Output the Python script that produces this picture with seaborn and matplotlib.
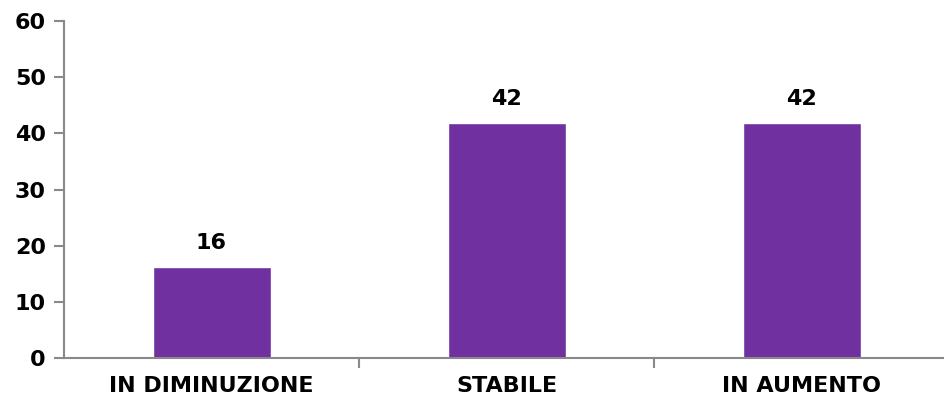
import matplotlib
matplotlib.use("Agg")
import matplotlib.pyplot as plt
import seaborn as sns
import pandas as pd

# data
categories = ["IN DIMINUZIONE", "STABILE", "IN AUMENTO"]
values = [16.2, 41.9, 41.9]
labels = ["16", "42", "42"]
y_ticks = [0, 10, 20, 30, 40, 50, 60]

sns.set_style("white")
plt.rcParams["font.family"] = ["DejaVu Sans"]
plt.rcParams["text.color"] = "black"
plt.rcParams["xtick.color"] = "black"
plt.rcParams["ytick.color"] = "black"

df = pd.DataFrame({"categoria": categories, "valore": values})

fig = plt.figure(figsize=(9.44, 4.01), dpi=100)
# axes run past the right edge, like the original
ax = fig.add_axes([64 / 944, (401 - 358) / 401, 885 / 944, 337 / 401])

sns.barplot(data=df, x="categoria", y="valore", color="#7030A0", width=0.4,
            saturation=1, ax=ax)

for i, lab in enumerate(labels):
    ax.text(i, values[i] + 2.5, lab, ha="center", va="bottom",
            fontsize=16, fontweight="bold", color="black")

ax.set_xlim(-0.5, 2.5)
ax.set_ylim(0, 60)
ax.set_yticks(y_ticks)
ax.set_yticklabels([str(t) for t in y_ticks], fontsize=16, fontweight="bold")
ax.set_xticks([0.5, 1.5], minor=False)
ax.set_xticklabels([])
ax.set_xticks([0, 1, 2], minor=True)
ax.set_xticklabels(categories, minor=True, fontsize=16, fontweight="bold")
ax.tick_params(axis="x", which="major", bottom=True, length=7, width=1.5,
               color="#898989", direction="out")
ax.tick_params(axis="x", which="minor", bottom=False, length=0, pad=13,
               labelcolor="black")
ax.tick_params(axis="y", left=True, length=7, width=1.5, color="#898989",
               direction="out", pad=6, labelcolor="black")
ax.set_xlabel("")
ax.set_ylabel("")

sns.despine(ax=ax)
for s in ["left", "bottom"]:
    ax.spines[s].set_color("#898989")
    ax.spines[s].set_linewidth(1.5)

fig.savefig("out.png", dpi=100)
